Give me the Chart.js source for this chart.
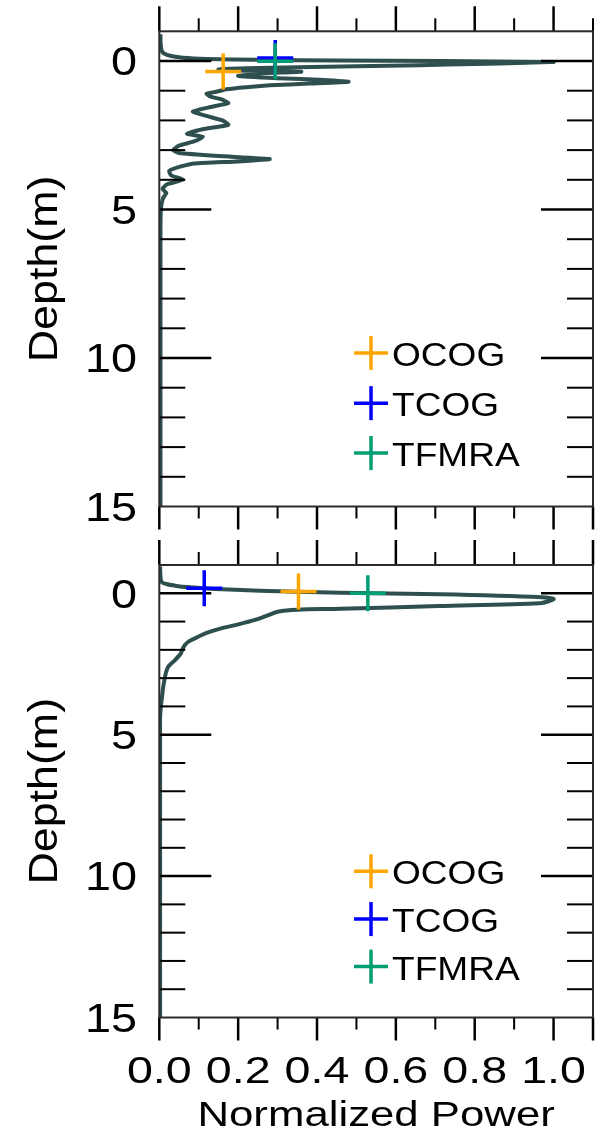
<!DOCTYPE html>
<html>
<head>
<meta charset="utf-8">
<script src="https://cdn.jsdelivr.net/npm/chart.js@4.4.0/dist/chart.umd.min.js"></script>
<style>
  html, body { margin: 0; padding: 0; background: #fff; }
  #wrap { position: relative; width: 595px; height: 1133px; overflow: hidden; background: #fff; }
  canvas { position: absolute; left: 0; }
  #topChart { top: 0; }
  #bottomChart { top: 540px; }
</style>
</head>
<body>
<div id="wrap">
  <canvas id="topChart" width="595" height="540"></canvas>
  <canvas id="bottomChart" width="595" height="593"></canvas>
</div>
<script>
// 上图波形 (深度 m / 归一化功率)
const topDepth = [-0.9, -0.7, -0.5, -0.35, -0.25, -0.17, -0.11, -0.07, -0.04, -0.02,
    0.0, 0.03, 0.06, 0.1, 0.14, 0.18, 0.21, 0.24, 0.28, 0.32,
    0.36, 0.42, 0.5, 0.58, 0.64, 0.7, 0.76, 0.82, 0.88, 0.95,
    1.02, 1.1, 1.2, 1.3, 1.42, 1.55, 1.7, 1.85, 2.0, 2.15,
    2.3, 2.45, 2.55, 2.7, 2.85, 3.0, 3.1, 3.2, 3.3, 3.38,
    3.45, 3.55, 3.7, 3.85, 4.0, 4.15, 4.3, 4.45, 4.6, 4.8,
    5.0, 5.5, 6, 7, 8, 9, 10, 11, 12, 13, 14, 15];
const topPower = [0.003, 0.003, 0.004, 0.006, 0.012, 0.03, 0.06, 0.12, 0.25, 0.45,
    0.72, 1.0, 0.93, 0.8, 0.66, 0.5, 0.35, 0.22, 0.15, 0.2,
    0.36, 0.26, 0.2, 0.3, 0.42, 0.48, 0.38, 0.28, 0.22, 0.17,
    0.15, 0.12, 0.13, 0.16, 0.175, 0.13, 0.085, 0.12, 0.16, 0.175,
    0.11, 0.07, 0.11, 0.09, 0.05, 0.035, 0.05, 0.15, 0.28, 0.2,
    0.09, 0.055, 0.025, 0.03, 0.06, 0.02, 0.008, 0.018, 0.01, 0.006,
    0.004, 0.003, 0.003, 0.003, 0.003, 0.003, 0.003, 0.003, 0.003, 0.003, 0.003, 0.003];

// 下图波形
const bottomDepth = [-0.95, -0.6, -0.4, -0.32, -0.27, -0.22, -0.14, -0.05, -0.02, 0.035,
    0.14, 0.2, 0.27, 0.35, 0.45, 0.55, 0.58, 0.65, 0.77, 0.94,
    1.1, 1.24, 1.4, 1.53, 1.7, 1.83, 2.0, 2.12, 2.36, 2.59,
    2.8, 3.06, 3.4, 3.65, 4.0, 4.4, 5, 7, 10, 15];
const bottomPower = [0.002, 0.003, 0.006, 0.02, 0.04, 0.07, 0.16, 0.35, 0.46, 0.71,
    0.97, 1.0, 0.99, 0.965, 0.71, 0.46, 0.35, 0.3, 0.277, 0.243,
    0.2, 0.157, 0.12, 0.1, 0.075, 0.065, 0.058, 0.055, 0.04, 0.023,
    0.017, 0.013, 0.009, 0.007, 0.004, 0.002, 0.002, 0.002, 0.002, 0.002];

// 重跟踪点
const retrackers = ['OCOG', 'TCOG', 'TFMRA'];
const retrackerColors = ['#ffa500', '#0000ff', '#009e73'];
const topRetrackPower = [0.162, 0.294, 0.294];
const topRetrackDepth = [0.35, -0.1, 0.01];
const bottomRetrackPower = [0.353, 0.114, 0.529];
const bottomRetrackDepth = [-0.06, -0.18, 0.0];

// 刻度
const depthLabels = [0, 5, 10, 15];
const depthMinor = [1, 2, 3, 4, 6, 7, 8, 9, 11, 12, 13, 14];
const depthMajor = [0, 5, 10];
const powerLabels = [0.0, 0.2, 0.4, 0.6, 0.8, 1.0];
const powerMinor = [0.1, 0.3, 0.5, 0.7, 0.9];
const legendRows = [9.83, 11.52, 13.2];

const FONT = '"Liberation Sans", Arial, Helvetica, sans-serif';
const LINE_COLOR = '#2f4f4f';

// 拉伸文字
function drawText(ctx, text, x, y, size, stretch, align, angle, lift) {
    ctx.save();
    ctx.translate(x, y);
    if (angle) ctx.rotate(angle);
    ctx.scale(stretch, 1);
    ctx.font = size + 'px ' + FONT;
    ctx.textAlign = align;
    ctx.textBaseline = 'alphabetic';
    ctx.fillStyle = '#000';
    ctx.fillText(text, 0, size * (lift === undefined ? 0.358 : lift));
    ctx.restore();
}

function seg(ctx, x1, y1, x2, y2) {
    ctx.beginPath();
    ctx.moveTo(x1, y1);
    ctx.lineTo(x2, y2);
    ctx.stroke();
}

function drawCross(ctx, cx, cy, r, color) {
    ctx.save();
    ctx.strokeStyle = color;
    ctx.lineWidth = 3.5;
    seg(ctx, cx - r, cy, cx + r, cy);
    seg(ctx, cx, cy - r, cx, cy + r);
    ctx.restore();
}

// 边框与刻度
function drawFrame(chart, opts) {
    const ctx = chart.ctx;
    const a = chart.chartArea;
    const xs = chart.scales.x;
    const ys = chart.scales.y;
    ctx.save();
    ctx.strokeStyle = '#000';
    ctx.lineCap = 'butt';

    // 深度刻度（内侧）
    depthMajor.forEach(d => {
        const py = ys.getPixelForValue(d);
        ctx.lineWidth = 2.5;
        seg(ctx, a.left, py, a.left + 52, py);
        seg(ctx, a.right - 52, py, a.right, py);
    });
    depthMinor.forEach(d => {
        const py = ys.getPixelForValue(d);
        ctx.lineWidth = 2;
        seg(ctx, a.left, py, a.left + 26, py);
        seg(ctx, a.right - 26, py, a.right, py);
    });

    // 功率刻度（外侧）
    const majors = powerLabels.concat(opts.lastMajorTop ? [1.1] : []);
    const minorsTop = powerMinor.concat(opts.lastMajorTop ? [] : [1.1]);
    ctx.lineWidth = 2.5;
    majors.forEach(v => {
        const px = xs.getPixelForValue(v);
        seg(ctx, px, a.top - 25, px, a.top);
    });
    powerLabels.concat([1.1]).forEach(v => {
        const px = xs.getPixelForValue(v);
        seg(ctx, px, a.bottom, px, a.bottom + 23);
    });
    ctx.lineWidth = 2;
    minorsTop.forEach(v => {
        const px = xs.getPixelForValue(v);
        seg(ctx, px, a.top - 13, px, a.top);
    });
    powerMinor.forEach(v => {
        const px = xs.getPixelForValue(v);
        seg(ctx, px, a.bottom, px, a.bottom + 12);
    });

    // 边框
    ctx.strokeStyle = '#2a2a2a';
    ctx.lineWidth = 2;
    ctx.strokeRect(a.left, a.top, a.right - a.left, a.bottom - a.top);
    ctx.restore();
}

// 文字与图例
function drawLabels(chart, opts) {
    const ctx = chart.ctx;
    const a = chart.chartArea;
    const xs = chart.scales.x;
    const ys = chart.scales.y;

    depthLabels.forEach(d => {
        drawText(ctx, String(d), 137, ys.getPixelForValue(d), 40, 1.17, 'right');
    });
    drawText(ctx, 'Depth(m)', 47, (a.top + a.bottom) / 2, 40, 1.12, 'center', -Math.PI / 2, 0.26);

    if (opts.xLabels) {
        powerLabels.forEach(v => {
            drawText(ctx, v.toFixed(1), xs.getPixelForValue(v), 530, 37, 1.26, 'center');
        });
        drawText(ctx, 'Normalized Power', (a.left + a.right) / 2, 573, 35, 1.25, 'center');
    }

    const lx = xs.getPixelForValue(0.537);
    retrackers.forEach((name, i) => {
        const ly = ys.getPixelForValue(legendRows[i]);
        drawCross(ctx, lx, ly, 17, retrackerColors[i]);
        drawText(ctx, name, lx + 21, ly + 1, 34, 1.09, 'left');
    });
}

function framePlugin(opts) {
    return {
        id: 'frameAxes',
        afterDatasetDraw(chart, args) {
            if (args.index === 0) drawFrame(chart, opts);
        },
        afterDraw(chart) {
            drawLabels(chart, opts);
        }
    };
}

function buildDatasets(depth, power, rDepth, rPower, tension) {
    const sets = [{
        data: depth.map((d, i) => ({ x: power[i], y: d })),
        showLine: true,
        borderColor: LINE_COLOR,
        borderWidth: 4,
        pointRadius: 0,
        tension: tension,
        order: 10
    }];
    retrackers.forEach((name, i) => {
        sets.push({
            label: name,
            data: [{ x: rPower[i], y: rDepth[i] }],
            showLine: false,
            pointStyle: 'cross',
            pointRadius: 18,
            pointBorderWidth: 3.5,
            pointBorderColor: retrackerColors[i],
            borderColor: retrackerColors[i],
            order: 3 - i
        });
    });
    return sets;
}

function makeChart(id, datasets, padding, opts) {
    return new Chart(document.getElementById(id), {
        type: 'scatter',
        data: { datasets: datasets },
        options: {
            responsive: false,
            animation: false,
            events: [],
            layout: { padding: padding, autoPadding: false },
            scales: {
                x: { type: 'linear', min: 0, max: 1.1, display: false },
                y: { type: 'linear', min: -1, max: 15, reverse: true, display: false }
            },
            plugins: {
                legend: { display: false },
                tooltip: { enabled: false }
            }
        },
        plugins: [framePlugin(opts)]
    });
}

makeChart('topChart',
    buildDatasets(topDepth, topPower, topRetrackDepth, topRetrackPower, 0.15),
    { left: 159.3, right: 2, top: 31.3, bottom: 33.5 },
    { xLabels: false, lastMajorTop: false });

makeChart('bottomChart',
    buildDatasets(bottomDepth, bottomPower, bottomRetrackDepth, bottomRetrackPower, 0.3),
    { left: 159.3, right: 2, top: 25, bottom: 115.5 },
    { xLabels: true, lastMajorTop: true });
</script>
</body>
</html>
